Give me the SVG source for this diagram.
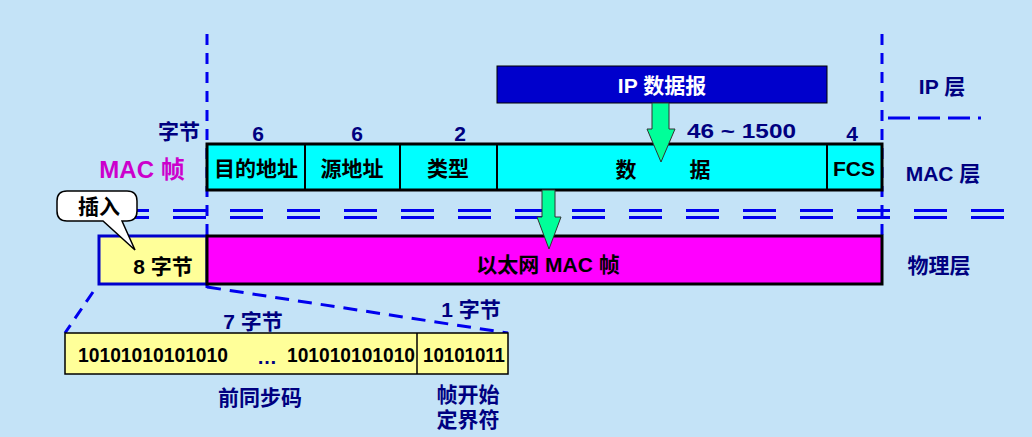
<svg xmlns="http://www.w3.org/2000/svg" width="1032" height="437" viewBox="0 0 1032 437">
<style>
text{font-family:"Liberation Sans","Noto Sans CJK SC",sans-serif;font-weight:bold;}
.lbl{fill:#000080;font-size:21px;}
.cell{fill:#000;font-size:21px;text-anchor:middle;}
.bin{fill:#000;font-size:20px;}
.dash{stroke:#0000EE;stroke-width:3;fill:none;}
.arrow{fill:#00FF99;stroke:#333;stroke-width:1;}
</style>
<rect width="1032" height="437" fill="#C4E3F7"/>

<g id="connectors">
  <line class="dash" x1="207" y1="34" x2="207" y2="288" stroke-dasharray="11 8"/>
  <line class="dash" x1="882" y1="34" x2="882" y2="236" stroke-dasharray="11 8"/>
  <line class="dash" x1="888" y1="118" x2="981" y2="118" stroke-dasharray="22 8"/>
  <line class="dash" x1="59" y1="210.5" x2="1004" y2="210.5" stroke-dasharray="33 24"/>
  <line class="dash" x1="59" y1="217.5" x2="1004" y2="217.5" stroke-dasharray="33 24"/>
  <line class="dash" x1="93" y1="292" x2="65" y2="333" stroke-dasharray="12 8"/>
  <line class="dash" x1="207" y1="287" x2="508" y2="333" stroke-dasharray="14 9"/>
</g>

<g id="ip-datagram">
  <rect x="497" y="66" width="330" height="37" fill="#0000CC" stroke="#000" stroke-width="1"/>
  <text x="662" y="93" fill="#fff" font-size="21" text-anchor="middle">IP 数据报</text>
</g>

<g id="mac-frame">
  <rect x="207" y="144" width="675" height="46" fill="#00FFFF" stroke="#000" stroke-width="3"/>
  <line x1="305" y1="144" x2="305" y2="190" stroke="#000" stroke-width="2"/>
  <line x1="400" y1="144" x2="400" y2="190" stroke="#000" stroke-width="2"/>
  <line x1="497" y1="144" x2="497" y2="190" stroke="#000" stroke-width="2"/>
  <line x1="827" y1="144" x2="827" y2="190" stroke="#000" stroke-width="2"/>
  <text class="cell" x="256" y="176">目的地址</text>
  <text class="cell" x="352" y="176">源地址</text>
  <text class="cell" x="448" y="176">类型</text>
  <text class="cell" x="626" y="177">数</text>
  <text class="cell" x="700" y="177">据</text>
  <text class="cell" x="854" y="176">FCS</text>
</g>

<g id="byte-labels">
  <text class="lbl" x="179" y="139" text-anchor="middle">字节</text>
  <text class="lbl" x="258" y="141" text-anchor="middle">6</text>
  <text class="lbl" x="357" y="141" text-anchor="middle">6</text>
  <text class="lbl" x="460" y="141" text-anchor="middle">2</text>
  <text class="lbl" x="687" y="138" textLength="109" lengthAdjust="spacingAndGlyphs">46 ~ 1500</text>
  <text class="lbl" x="852" y="141" text-anchor="middle">4</text>
</g>

<g id="mac-title">
  <text x="142" y="178" fill="#CC00CC" font-size="24" text-anchor="middle">MAC 帧</text>
</g>

<g id="layer-labels">
  <text class="lbl" x="942" y="94" text-anchor="middle">IP 层</text>
  <text class="lbl" x="943" y="181" text-anchor="middle">MAC 层</text>
  <text class="lbl" x="939" y="273" text-anchor="middle">物理层</text>
</g>

<g id="physical-frame">
  <rect x="99" y="236" width="108" height="48" fill="#FFFF99" stroke="#0000CC" stroke-width="3"/>
  <text class="cell" x="163" y="274">8 字节</text>
  <rect x="207" y="236" width="675" height="48" fill="#FF00FF" stroke="#000" stroke-width="3"/>
  <text class="cell" x="548" y="272">以太网 MAC 帧</text>
</g>

<g id="callout">
  <path d="M67 191 H127 Q137 191 137 201 V211 Q137 221 127 221 H122 L135 250 L103 221 H67 Q57 221 57 211 V201 Q57 191 67 191 Z" fill="#fff" stroke="#000" stroke-width="1.5"/>
  <text x="99" y="214" fill="#000" font-size="21" text-anchor="middle">插入</text>
</g>

<g id="arrows">
  <polygon class="arrow" points="652,103 669,103 669,129 675,129 661,162 647,129 652,129"/>
  <polygon class="arrow" points="542,190 555,190 555,217 561,217 549,249 537,217 542,217"/>
</g>

<g id="preamble">
  <rect x="65" y="333" width="443" height="41" fill="#FFFF99" stroke="#000" stroke-width="1.5"/>
  <line x1="417" y1="333" x2="417" y2="374" stroke="#000" stroke-width="1.5"/>
  <text class="bin" x="78" y="362" textLength="150" lengthAdjust="spacingAndGlyphs">10101010101010</text>
  <text x="267" y="364" fill="#000080" font-size="20" text-anchor="middle">…</text>
  <text class="bin" x="287" y="362" textLength="128" lengthAdjust="spacingAndGlyphs">101010101010</text>
  <text class="bin" x="423" y="362" textLength="82" lengthAdjust="spacingAndGlyphs">10101011</text>
</g>

<g id="preamble-labels">
  <text class="lbl" x="253" y="329" text-anchor="middle">7 字节</text>
  <text class="lbl" x="471" y="317" text-anchor="middle">1 字节</text>
  <text class="lbl" x="260" y="405" text-anchor="middle">前同步码</text>
  <text class="lbl" x="468" y="402" text-anchor="middle">帧开始</text>
  <text class="lbl" x="468" y="427" text-anchor="middle">定界符</text>
</g>
</svg>
